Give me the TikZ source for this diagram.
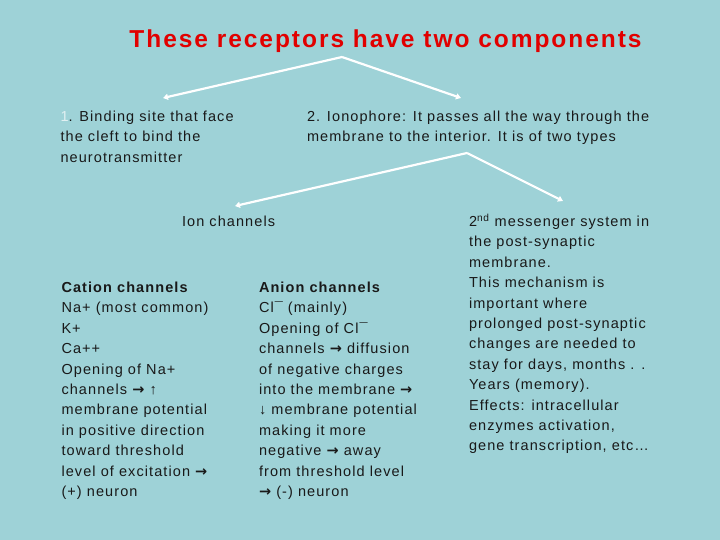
\documentclass[tikz,border=0pt]{standalone}
\usepackage{fontspec}
\setmainfont{Liberation Sans}
\newfontfamily\bodyfont[LetterSpace=7.5]{Liberation Sans}
\newfontfamily\titlefont[LetterSpace=8]{Liberation Sans}
\newfontfamily\arrowfont{DejaVu Sans}
\newcommand\rarr{{\arrowfont\bfseries →}}
\usetikzlibrary{arrows.meta}
\definecolor{bg}{RGB}{158,210,215}
\definecolor{ttl}{RGB}{225,0,0}
\definecolor{txt}{RGB}{25,25,25}
\definecolor{pale}{RGB}{225,240,242}
\begin{document}
\begin{tikzpicture}[x=1pt,y=-1pt,
  every node/.style={inner sep=0pt, outer sep=0pt},
  body/.style={font=\fontsize{14.5}{20.4}\selectfont\bodyfont, text=txt, align=left, anchor=base west},
  conn/.style={draw=white, line width=2.2pt, line join=round, -{Triangle[length=5pt,width=6pt]}}]
\useasboundingbox (0,0) rectangle (720,540);
\fill[bg] (0,0) rectangle (720,540);
\node[font=\fontsize{24.5}{28}\selectfont\titlefont\bfseries, text=ttl, anchor=base] (title) at (385.5,47.5) {These receptors have two components};

\coordinate (v1) at (342,57);
\coordinate (e1) at (163,98);
\coordinate (e2) at (461,98);
\draw[conn] (v1) -- (e1);
\draw[conn] (v1) -- (e2);

% base anchor of a multi-line node = baseline of its last line
\node[body] (t1) at (60.5,162.3) {\textcolor{pale}{1}. Binding site that face\\the cleft to bind the\\neurotransmitter};
\node[body] (t2) at (307,141.9) {2. Ionophore: It passes all the way through the\\membrane to the interior. It is of two types};

\coordinate (v2) at (467,153);
\coordinate (e3) at (235,206);
\coordinate (e4) at (563,201);
\draw[conn] (v2) -- (e3);
\draw[conn] (v2) -- (e4);

\node[body] (ion) at (182,226.5) {Ion channels};

\node[body] (cation) at (61.5,496.5) {{\bfseries Cation channels}\\Na+ (most common)\\K+\\Ca++\\Opening of Na+\\channels \rarr{} ↑\\membrane potential\\in positive direction\\toward threshold\\level of excitation \rarr\\(+) neuron};

\node[body] (anion) at (259,496.5) {{\bfseries Anion channels}\\Cl¯ (mainly)\\Opening of Cl¯\\channels \rarr{} diffusion\\of negative charges\\into the membrane \rarr\\↓ membrane potential\\making it more\\negative \rarr{} away\\from threshold level\\\rarr{} (-) neuron};

\node[body] (second) at (469,450.9) {2\textsuperscript{nd} messenger system in\\the post-synaptic\\membrane.\\This mechanism is\\important where\\prolonged post-synaptic\\changes are needed to\\stay for days, months . .\\Years (memory).\\Effects: intracellular\\enzymes activation,\\gene transcription, etc…};
\end{tikzpicture}
\end{document}
